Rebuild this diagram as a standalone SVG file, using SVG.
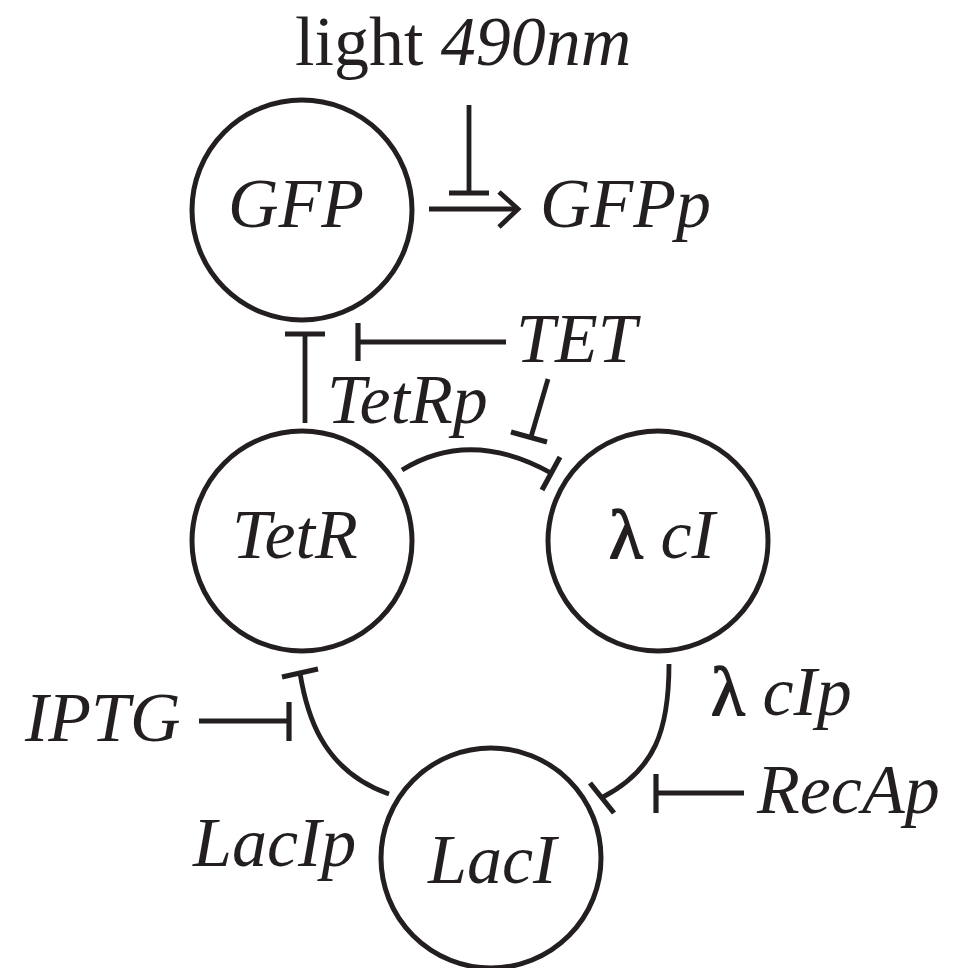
<svg xmlns="http://www.w3.org/2000/svg" width="970" height="968" viewBox="0 0 970 968">
<style>
  .node { fill: none; stroke: #231f20; stroke-width: 5; }
  .edge { fill: none; stroke: #231f20; stroke-width: 4.8; stroke-linecap: butt; }
  .bar { fill: none; stroke: #231f20; stroke-width: 5.2; stroke-linecap: butt; }
  text { font-family: "Liberation Serif", "Times New Roman", serif; font-size: 70px; fill: #231f20; }
  .it { font-style: italic; }
  .up { font-style: normal; }
  .lam { font-style: normal; stroke: #231f20; stroke-width: 1.6; }
</style>
<rect width="970" height="968" fill="#ffffff"/>
<g id="connectors">
  <!-- light 490nm inhibits GFP -> GFPp -->
  <line class="edge" x1="469" y1="105" x2="469" y2="193"/>
  <line class="bar" x1="449" y1="193" x2="489" y2="193"/>
  <!-- GFP -> GFPp arrow -->
  <line class="edge" x1="429" y1="209" x2="517" y2="209"/>
  <polyline class="edge" points="499,192 518,209 499,227"/>
  <!-- TetR -| GFP -->
  <line class="edge" x1="305" y1="423" x2="305" y2="334"/>
  <line class="bar" x1="285" y1="334" x2="325" y2="334"/>
  <!-- TET -| (TetR -| GFP) -->
  <line class="edge" x1="506" y1="342" x2="358" y2="342"/>
  <line class="bar" x1="358" y1="323" x2="358" y2="361"/>
  <!-- TET -| TetRp -->
  <line class="edge" x1="548" y1="379" x2="531" y2="437"/>
  <line class="bar" x1="511" y1="432" x2="547" y2="442"/>
  <!-- TetR -| lambda cI -->
  <path class="edge" d="M402,470 Q470,428 551,473"/>
  <line class="bar" x1="560" y1="457" x2="542" y2="490"/>
  <!-- lambda cI -| LacI -->
  <path class="edge" d="M669,664 C669,730 655,770 603,797"/>
  <line class="bar" x1="590" y1="783" x2="614" y2="813"/>
  <!-- RecAp -| -->
  <line class="edge" x1="744" y1="793" x2="656" y2="793"/>
  <line class="bar" x1="656" y1="774" x2="656" y2="813"/>
  <!-- LacI -| TetR -->
  <path class="edge" d="M389,794 C320,770 306,710 300,673"/>
  <line class="bar" x1="282" y1="677" x2="318" y2="669"/>
  <!-- IPTG -| -->
  <line class="edge" x1="199" y1="721" x2="289" y2="721"/>
  <line class="bar" x1="289" y1="702" x2="289" y2="741"/>
</g>
<g id="node-gfp">
  <circle class="node" cx="302" cy="210" r="110"/>
  <text class="it" x="228" y="227">GFP</text>
</g>
<g id="node-tetr">
  <circle class="node" cx="302" cy="541" r="110"/>
  <text class="it" x="232" y="558">TetR</text>
</g>
<g id="node-lcI">
  <circle class="node" cx="658" cy="541" r="110"/>
  <text x="609" y="558"><tspan class="lam">λ </tspan><tspan class="it">cI</tspan></text>
</g>
<g id="node-laci">
  <circle class="node" cx="491" cy="858" r="110"/>
  <text class="it" x="428" y="883">LacI</text>
</g>
<g id="labels">
  <text x="295" y="65"><tspan class="up">light </tspan><tspan class="it">490nm</tspan></text>
  <text class="it" x="540" y="227">GFPp</text>
  <text class="it" x="516" y="362">TET</text>
  <text class="it" x="327" y="423">TetRp</text>
  <text x="711" y="715"><tspan class="lam">λ </tspan><tspan class="it">cIp</tspan></text>
  <text class="it" x="25" y="741">IPTG</text>
  <text class="it" x="757" y="813">RecAp</text>
  <text class="it" x="193" y="866">LacIp</text>
</g>
</svg>
